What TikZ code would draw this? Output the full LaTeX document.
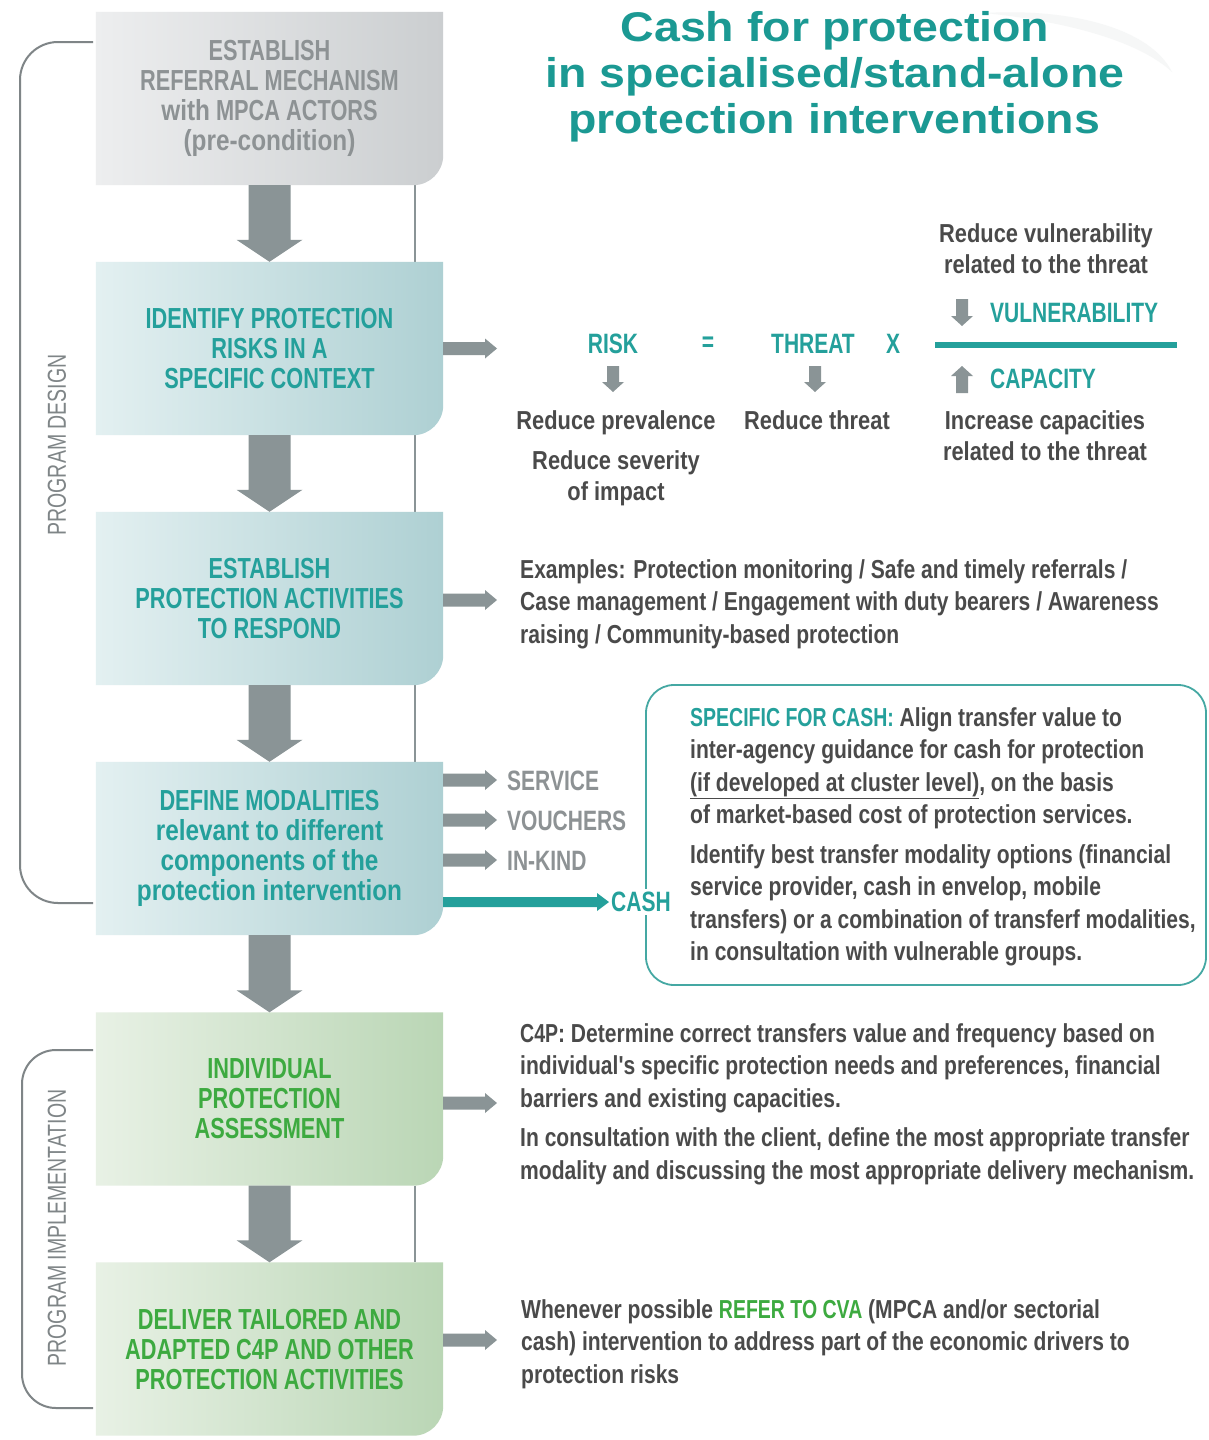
\documentclass[tikz,border=0pt]{standalone}
\usepackage{fontspec}
\setmainfont{Liberation Sans}
\newfontfamily\capsf[FakeStretch=0.75]{Liberation Sans}
\newfontfamily\lowf[FakeStretch=0.84]{Liberation Sans}
\newfontfamily\bodyf[FakeStretch=0.81]{Liberation Sans}
\newfontfamily\titlef[FakeStretch=1.12]{Liberation Sans}
\usetikzlibrary{arrows.meta,backgrounds,calc}
\definecolor{teal1}{HTML}{24A09B}
\definecolor{titlec}{HTML}{1B9993}
\definecolor{green1}{HTML}{3DAA40}
\definecolor{gtext}{HTML}{8D9294}
\definecolor{bodyc}{HTML}{4A4A4A}
\definecolor{arrowgray}{HTML}{8A9496}
\definecolor{brk}{HTML}{7F8587}
\definecolor{cashc}{HTML}{45A8A3}
\definecolor{g1L}{HTML}{EDEEEF}\definecolor{g1R}{HTML}{CBCED0}
\definecolor{t1L}{HTML}{E3F0F1}\definecolor{t1R}{HTML}{AED0D3}
\definecolor{n1L}{HTML}{E8F1E5}\definecolor{n1R}{HTML}{BAD6B5}
\definecolor{swoosh}{HTML}{F6F7F7}
\tikzset{
  stepbox/.style={minimum width=347pt,minimum height=173pt,inner sep=0pt,align=center,
    font=\capsf\bfseries\fontsize{29}{30}\selectfont},
  capsT/.style={font=\capsf\bfseries\fontsize{28}{30}\selectfont,inner sep=0pt},
  eqT/.style={font=\lowf\bfseries\fontsize{26}{31}\selectfont,text=bodyc,inner sep=0pt,align=center},
  bodyT/.style={font=\bodyf\bfseries\fontsize{26}{32.5}\selectfont,text=bodyc,inner sep=0pt,align=left},
  sidelabel/.style={font=\capsf\fontsize{26}{26}\selectfont,text=brk,inner sep=0pt,rotate=90},
  bracket/.style={draw=brk,line width=2pt},
  vline/.style={draw=arrowgray,line width=2pt},
}
\newcommand\boxbg[3]{\path[left color=#2,right color=#3] (#1.north west) -- (#1.north east)
  -- ($(#1.south east)+(0,-30)$) .. controls ($(#1.south east)+(0,-13.4)$) and ($(#1.south east)+(-13.4,0)$) .. ($(#1.south east)+(-30,0)$)
  -- (#1.south west) -- cycle;}
\newcommand\fatdown[2]{\fill[arrowgray] ($(#1.south)+(-21,0)$) -- ($(#2.north)+(-21,-22)$)
  -- ($(#2.north)+(-33,-22)$) -- (#2.north) -- ($(#2.north)+(33,-22)$)
  -- ($(#2.north)+(21,-22)$) -- ($(#1.south)+(21,0)$) -- cycle;}
\newcommand\harrow[6]{\fill[#6] ($(#1)+(0,-#3)$) -- ($(#2)+(-#5,-#3)$) -- ($(#2)+(-#5,-#4)$)
  -- (#2) -- ($(#2)+(-#5,#4)$) -- ($(#2)+(-#5,#3)$) -- ($(#1)+(0,#3)$) -- cycle;}
\newcommand\varrow[3]{\fill[arrowgray] ($(#1)+(-6,0)$) -- ($(#2)+(-6,#3)$) -- ($(#2)+(-11,#3)$)
  -- (#2) -- ($(#2)+(11,#3)$) -- ($(#2)+(6,#3)$) -- ($(#1)+(6,0)$) -- cycle;}
\begin{document}
\begin{tikzpicture}[x=1pt,y=-1pt]
\useasboundingbox (0,0) rectangle (1209,1440);
% title
\node[font=\titlef\bfseries\fontsize{41.5}{46}\selectfont,text=titlec,inner sep=0pt,anchor=base] (t1) at (835,41) {Cash for protection};
\node[font=\titlef\bfseries\fontsize{41.5}{46}\selectfont,text=titlec,inner sep=0pt,anchor=base] (t2) at (835,87) {in specialised/stand-alone};
\node[font=\titlef\bfseries\fontsize{41.5}{46}\selectfont,text=titlec,inner sep=0pt,anchor=base] (t3) at (834,133) {protection interventions};

% step boxes
\node[stepbox,text=gtext] (b1) at (269.5,98.5) {ESTABLISH\\REFERRAL MECHANISM\\{\lowf with} MPCA ACTORS\\{\lowf (pre-condition)}};
\node[stepbox,text=teal1] (b2) at (269.5,348.5) {IDENTIFY PROTECTION\\RISKS IN A\\SPECIFIC CONTEXT};
\node[stepbox,text=teal1] (b3) at (269.5,598.5) {ESTABLISH\\PROTECTION ACTIVITIES\\TO RESPOND};
\node[stepbox,text=teal1] (b4) at (269.5,848.5) {DEFINE MODALITIES\\{\lowf relevant to different}\\{\lowf components of the}\\{\lowf protection intervention}};
\node[stepbox,text=green1] (b5) at (269.5,1099) {INDIVIDUAL\\PROTECTION\\ASSESSMENT};
\node[stepbox,text=green1] (b6) at (269.5,1349) {DELIVER TAILORED AND\\ADAPTED C4P AND OTHER\\PROTECTION ACTIVITIES};

\begin{pgfonlayer}{background}
  \fill[white] (0,0) rectangle (1209,1440);
  % faint swoosh behind title
  \fill[swoosh] (985,13) .. controls (1070,8) and (1150,28) .. (1172,72)
    .. controls (1140,42) and (1070,22) .. (985,13) -- cycle;
  \draw[vline] ($(b1.south east)+(-28,0)$) -- ($(b2.north east)+(-28,0)$);
  \draw[vline] ($(b2.south east)+(-28,0)$) -- ($(b3.north east)+(-28,0)$);
  \draw[vline] ($(b3.south east)+(-28,0)$) -- ($(b4.north east)+(-28,0)$);
  \draw[vline] ($(b5.south east)+(-28,0)$) -- ($(b6.north east)+(-28,0)$);
  \boxbg{b1}{g1L}{g1R}
  \boxbg{b2}{t1L}{t1R}
  \boxbg{b3}{t1L}{t1R}
  \boxbg{b4}{t1L}{t1R}
  \boxbg{b5}{n1L}{n1R}
  \boxbg{b6}{n1L}{n1R}
\end{pgfonlayer}

% down arrows
\fatdown{b1}{b2}
\fatdown{b2}{b3}
\fatdown{b3}{b4}
\fatdown{b4}{b5}
\fatdown{b5}{b6}

% brackets and side labels
\coordinate (pdA) at (93,42);
\coordinate (pdB) at (93,903);
\draw[bracket,rounded corners=38pt] (pdA) -- (20,42) -- (20,903) -- (pdB);
\coordinate (piA) at (93,1050);
\coordinate (piB) at (93,1408);
\draw[bracket,rounded corners=34pt] (piA) -- (22,1050) -- (22,1408) -- (piB);
\node[sidelabel] (pd) at (57,445) {PROGRAM DESIGN};
\node[sidelabel] (pi) at (57,1228) {PROGRAM IMPLEMENTATION};

% risk equation
\node[capsT,text=teal1] (risk) at (613,344) {RISK};
\node[capsT,text=teal1] (eq) at (708,344) {=};
\node[capsT,text=teal1] (threat) at (813,344) {THREAT};
\node[capsT,text=teal1] (times) at (893,344) {X};
\node[capsT,text=teal1,anchor=west] (vul) at (990,313) {VULNERABILITY};
\node[capsT,text=teal1,anchor=west] (capa) at (990,379) {CAPACITY};
\coordinate (frL) at (935,345);
\coordinate (frR) at (1177,345);
\draw[teal1,line width=6pt] (frL) -- (frR);
\node[eqT,anchor=north] (rv) at (1046,223) {Reduce vulnerability\\related to the threat};
\node[eqT,anchor=north] (ic) at (1045,410) {Increase capacities\\related to the threat};
\node[eqT,anchor=north] (rp) at (616,410) {Reduce prevalence};
\node[eqT,anchor=north] (rs) at (616,450) {Reduce severity\\of impact};
\node[eqT,anchor=north] (rt) at (817,410) {Reduce threat};
\coordinate (ra1) at (613,366); \coordinate (ra2) at (613,392);
\coordinate (ta1) at (815,366); \coordinate (ta2) at (815,392);
\coordinate (va1) at (962,299); \coordinate (va2) at (962,326);
\coordinate (ca1) at (962,393); \coordinate (ca2) at (962,366);
\varrow{ra1}{ra2}{-10}
\varrow{ta1}{ta2}{-10}
\varrow{va1}{va2}{-10}
\varrow{ca1}{ca2}{10}

% right arrows
\coordinate (s2) at (b2.east); \coordinate (e2) at (497,348.5);
\harrow{s2}{e2}{6.5}{10}{12}{arrowgray}
\coordinate (s3) at ($(b3.east)+(0,1.5)$); \coordinate (e3) at (497,600);
\harrow{s3}{e3}{6.5}{10}{12}{arrowgray}

\node[bodyT,anchor=north west] (ex) at (520,559) {Examples: Protection monitoring / Safe and timely referrals /\\Case management / Engagement with duty bearers / Awareness\\raising / Community-based protection};

% modalities
\node[capsT,text=gtext,anchor=west] (svc) at (507,781) {SERVICE};
\node[capsT,text=gtext,anchor=west] (vou) at (507,821) {VOUCHERS};
\node[capsT,text=gtext,anchor=west] (ink) at (507,861) {IN-KIND};
\coordinate (s4a) at ($(b4.east)+(0,-68.5)$); \coordinate (e4a) at (497,780);
\coordinate (s4b) at ($(b4.east)+(0,-28.5)$); \coordinate (e4b) at (497,820);
\coordinate (s4c) at ($(b4.east)+(0,11.5)$);  \coordinate (e4c) at (497,860);
\harrow{s4a}{e4a}{6.5}{10}{12}{arrowgray}
\harrow{s4b}{e4b}{6.5}{10}{12}{arrowgray}
\harrow{s4c}{e4c}{6.5}{10}{12}{arrowgray}

% cash box
\node[draw=cashc,line width=1.8pt,rounded corners=28pt,minimum width=560pt,minimum height=300pt,inner sep=0pt] (cbox) at (926,835) {};
\node[capsT,text=teal1,anchor=west,fill=white,inner xsep=2pt,inner ysep=3pt] (cash) at (609,902) {CASH};
\coordinate (s4d) at ($(b4.east)+(0,53.5)$); \coordinate (e4d) at (cash.west);
\harrow{s4d}{e4d}{5}{9}{12}{teal1}
\node[bodyT,anchor=north west] (ctext) at (690,707) {{\capsf\color{teal1}SPECIFIC FOR CASH:} Align transfer value to\\inter-agency guidance for cash for protection\\\underline{(if developed at cluster level)}, on the basis\\of market-based cost of protection services.\\[7pt]Identify best transfer modality options (financial\\service provider, cash in envelop, mobile\\transfers) or a combination of transferf modalities,\\in consultation with vulnerable groups.};

% implementation texts
\coordinate (s5) at ($(b5.east)+(0,4)$); \coordinate (e5) at (497,1103);
\harrow{s5}{e5}{6.5}{10}{12}{arrowgray}
\node[bodyT,anchor=north west] (c4p) at (520,1023) {{\capsf C4P}: Determine correct transfers value and frequency based on\\individual's specific protection needs and preferences, financial\\barriers and existing capacities.\\[7pt]In consultation with the client, define the most appropriate transfer\\modality and discussing the most appropriate delivery mechanism.};
\coordinate (s6) at ($(b6.east)+(0,-9)$); \coordinate (e6) at (497,1340);
\harrow{s6}{e6}{6.5}{10}{12}{arrowgray}
\node[bodyT,anchor=north west] (cva) at (521,1299) {Whenever possible {\capsf\color{green1}REFER TO CVA} (MPCA and/or sectorial\\cash) intervention to address part of the economic drivers to\\protection risks};
\end{tikzpicture}
\end{document}
